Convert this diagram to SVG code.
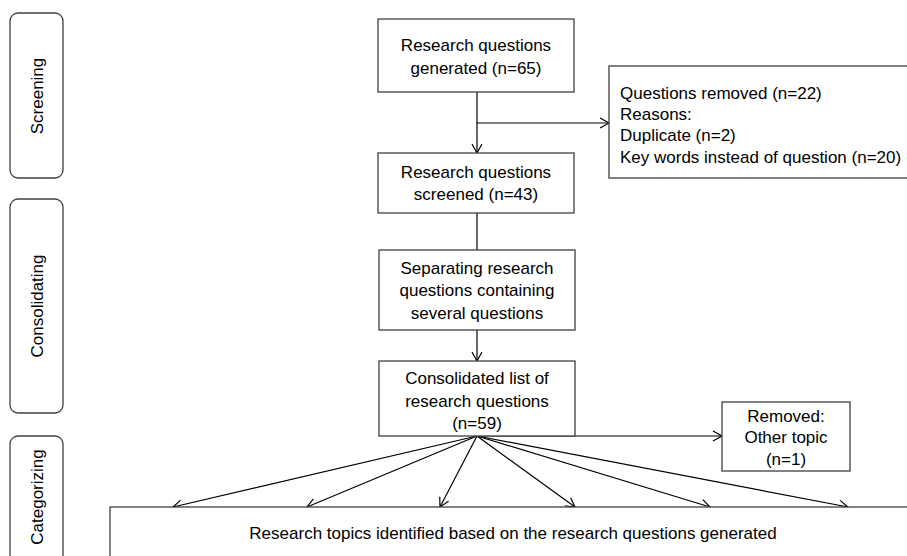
<svg xmlns="http://www.w3.org/2000/svg" width="907" height="556" viewBox="0 0 907 556">
<style>
text{font-family:"Liberation Sans",Arial,sans-serif;font-size:17px;fill:#000}
.c{text-anchor:middle}
.box{fill:#fff;stroke:#404040;stroke-width:1.3}
.side{fill:#fff;stroke:#404040;stroke-width:1.3}
.ln{stroke:#000;stroke-width:1.2;fill:none}
</style>
<defs>
<marker id="arr" markerUnits="userSpaceOnUse" markerWidth="12" markerHeight="12" refX="10" refY="6" orient="auto">
<path d="M1,1 L10,6 L1,11" fill="none" stroke="#000" stroke-width="1.2"/>
</marker>
</defs>
<rect width="907" height="556" fill="#fff"/>
<g id="phase-screening">
<rect class="side" x="10" y="13" width="53" height="165" rx="8"/>
<text class="c" transform="translate(43,96) rotate(-90)">Screening</text>
</g>
<g id="phase-consolidating">
<rect class="side" x="10" y="199" width="53" height="214" rx="8"/>
<text class="c" transform="translate(43,306) rotate(-90)">Consolidating</text>
</g>
<g id="phase-categorizing">
<rect class="side" x="10" y="436" width="53" height="140" rx="8"/>
<text class="c" transform="translate(43,497) rotate(-90)">Categorizing</text>
</g>
<g id="connectors">
<line class="ln" x1="477" y1="92" x2="477" y2="153" marker-end="url(#arr)"/>
<line class="ln" x1="477" y1="123" x2="609" y2="123" marker-end="url(#arr)"/>
<line class="ln" x1="477" y1="213" x2="477" y2="250"/>
<line class="ln" x1="477" y1="330" x2="477" y2="361" marker-end="url(#arr)"/>
<line class="ln" x1="477" y1="436" x2="722" y2="436" marker-end="url(#arr)"/>
<line class="ln" x1="477" y1="436" x2="173" y2="507" marker-end="url(#arr)"/>
<line class="ln" x1="477" y1="436" x2="307" y2="507" marker-end="url(#arr)"/>
<line class="ln" x1="477" y1="436" x2="440" y2="507" marker-end="url(#arr)"/>
<line class="ln" x1="477" y1="436" x2="575" y2="507" marker-end="url(#arr)"/>
<line class="ln" x1="477" y1="436" x2="710" y2="507" marker-end="url(#arr)"/>
<line class="ln" x1="477" y1="436" x2="848" y2="507" marker-end="url(#arr)"/>
</g>
<g id="generated">
<rect class="box" x="378" y="19" width="196" height="73"/>
<text class="c" x="476" y="51">Research questions</text>
<text class="c" x="476" y="74">generated (n=65)</text>
</g>
<g id="removed-22">
<rect class="box" x="609" y="66" width="310" height="112"/>
<text x="620" y="99">Questions removed (n=22)</text>
<text x="620" y="120">Reasons:</text>
<text x="620" y="141">Duplicate (n=2)</text>
<text x="620" y="163">Key words instead of question (n=20)</text>
</g>
<g id="screened">
<rect class="box" x="378" y="153" width="196" height="60"/>
<text class="c" x="476" y="178">Research questions</text>
<text class="c" x="476" y="200">screened (n=43)</text>
</g>
<g id="separating">
<rect class="box" x="379" y="250" width="196" height="80"/>
<text class="c" x="477" y="274">Separating research</text>
<text class="c" x="477" y="296">questions containing</text>
<text class="c" x="477" y="319">several questions</text>
</g>
<g id="consolidated">
<rect class="box" x="379" y="361" width="196" height="75"/>
<text class="c" x="477" y="384">Consolidated list of</text>
<text class="c" x="477" y="407">research questions</text>
<text class="c" x="477" y="429">(n=59)</text>
</g>
<g id="removed-1">
<rect class="box" x="722" y="402" width="128" height="69"/>
<text class="c" x="786" y="422">Removed:</text>
<text class="c" x="786" y="443">Other topic</text>
<text class="c" x="786" y="465">(n=1)</text>
</g>
<g id="topics">
<rect class="box" x="110" y="507" width="820" height="70"/>
<text class="c" x="513" y="539">Research topics identified based on the research questions generated</text>
</g>
</svg>
